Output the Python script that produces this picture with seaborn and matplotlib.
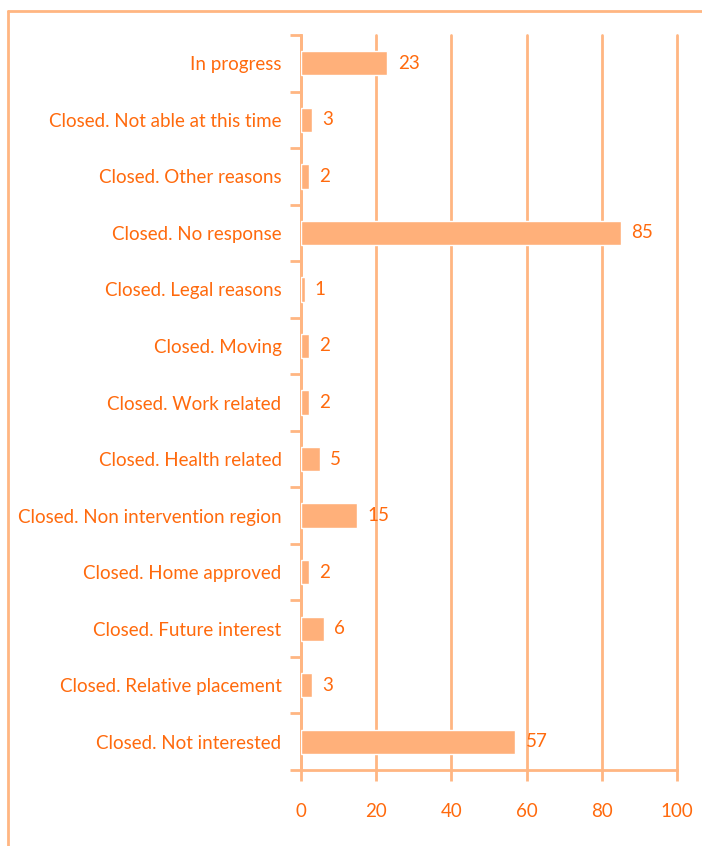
import matplotlib as mpl
mpl.use("Agg")
import matplotlib.pyplot as plt
import seaborn as sns
import pandas as pd
import numpy as np
from matplotlib.lines import Line2D

categories = [
    'In progress',
    'Closed. Not able at this time',
    'Closed. Other reasons',
    'Closed. No response',
    'Closed. Legal reasons',
    'Closed. Moving',
    'Closed. Work related',
    'Closed. Health related',
    'Closed. Non intervention region',
    'Closed. Home approved',
    'Closed. Future interest',
    'Closed. Relative placement',
    'Closed. Not interested',
]
counts = [23, 3, 2, 85, 1, 2, 2, 5, 15, 2, 6, 3, 57]
xticks = [0, 20, 40, 60, 80, 100]

bar_col = '#FFB07A'
line_col = '#FFB682'
text_col = '#FF6A0D'

sns.set_style('white')
plt.rcParams['font.family'] = ['Lato', 'DejaVu Sans']

df = pd.DataFrame({'cat': categories, 'n': counts})

fig = plt.figure(figsize=(7.02, 8.46), dpi=100)
ax = fig.add_axes([0.4288, 0.0898, 0.5356, 0.8688])

sns.barplot(data=df, x='n', y='cat', orient='h', color=bar_col, width=0.43,
            saturation=1, ax=ax, zorder=3)

ax.set_xlim(0, 100)
ax.set_ylim(len(categories) - 0.5, -0.5)
ax.set_xticks(xticks)
ax.set_xticklabels([str(t) for t in xticks], fontsize=13, color=text_col)
ax.set_xlabel('')
ax.set_ylabel('')
ax.tick_params(axis='y', which='major', left=False, length=0, labelsize=13.5,
               labelcolor=text_col, pad=14)
ax.set_yticks(np.arange(-0.5, len(categories), 1), minor=True)
ax.tick_params(axis='y', which='minor', left=True, length=8, width=2, color=line_col)
ax.tick_params(axis='x', which='major', bottom=True, length=8, width=2, color=line_col,
               labelsize=13.5, labelcolor=text_col, pad=16)

ax.grid(axis='x', color=line_col, linewidth=2, zorder=0)
for gl in ax.get_xgridlines():
    gl.set_clip_on(False)
for s in ['top', 'right']:
    ax.spines[s].set_visible(False)
for s in ['left', 'bottom']:
    ax.spines[s].set_color(line_col)
    ax.spines[s].set_linewidth(2)

for i, v in enumerate(counts):
    ax.text(v + 2.7, i, str(v), va='center', ha='left', fontsize=13.5, color=text_col, zorder=4)

# outer frame (left and top only, rest cropped)
fig.add_artist(Line2D([8 / 702, 8 / 702], [0, 1 - 11 / 846], transform=fig.transFigure,
                      color=line_col, linewidth=2))
fig.add_artist(Line2D([8 / 702, 1], [1 - 11 / 846, 1 - 11 / 846], transform=fig.transFigure,
                      color=line_col, linewidth=2))

fig.savefig('out.png', dpi=100)
plt.close(fig)
